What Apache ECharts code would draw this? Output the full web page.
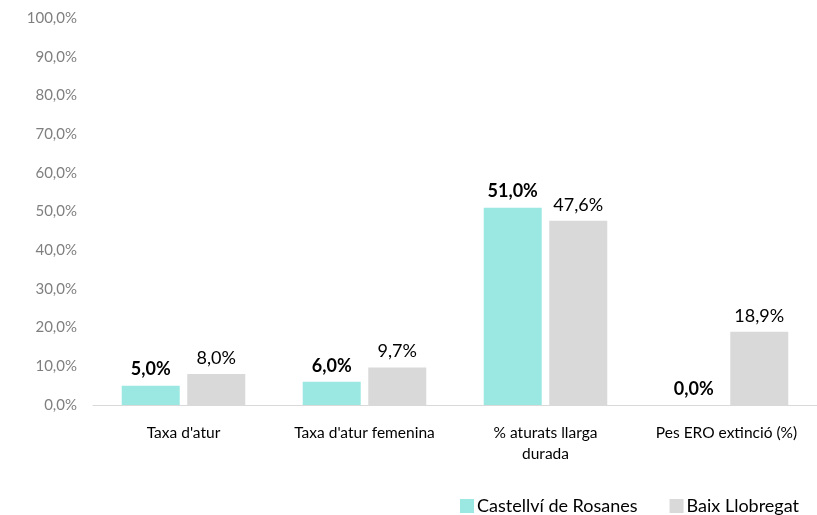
<!DOCTYPE html>
<html>
<head>
<meta charset="utf-8">
<script src="https://cdn.jsdelivr.net/npm/echarts@6/dist/echarts.min.js"></script>
<style>
  html, body { margin: 0; padding: 0; background: #fff; }
  #chart { width: 817px; height: 515px; }
</style>
</head>
<body>
<div id="chart"></div>
<script>
const categories = ["Taxa d'atur", "Taxa d'atur femenina", '% aturats llarga\ndurada', 'Pes ERO extinció (%)']
const castellviData = [5.0, 6.0, 51.0, 0.0]
const baixData = [8.0, 9.7, 47.6, 18.9]
const seriesNames = ['Castellví de Rosanes', 'Baix Llobregat']

const pct = v => v.toFixed(1).replace('.', ',') + '%'

const option = {
  animation: false,
  textStyle: { fontFamily: 'Lato' },
  grid: { left: 93, top: 18, width: 726, height: 387 },
  legend: {
    data: seriesNames,
    left: 455,
    top: 492,
    itemWidth: 14,
    itemHeight: 14,
    itemGap: 32,
    icon: 'rect',
    textStyle: { fontFamily: 'Lato', fontSize: 18, color: '#000', padding: [0, 0, 0, -2] }
  },
  xAxis: {
    type: 'category',
    data: categories,
    axisLine: { lineStyle: { color: '#d9d9d9', width: 1 } },
    axisTick: { show: false },
    axisLabel: { color: '#000', fontSize: 15.5, margin: 17, lineHeight: 21, interval: 0 }
  },
  yAxis: {
    type: 'value',
    min: 0,
    max: 100,
    interval: 10,
    splitLine: { show: false },
    axisLine: { show: false },
    axisTick: { show: false },
    axisLabel: { color: '#7f7f7f', fontSize: 15, margin: 16, formatter: v => pct(v) }
  },
  series: [
    {
      name: seriesNames[0],
      type: 'bar',
      data: castellviData,
      barWidth: 58,
      barGap: '13%',
      itemStyle: { color: '#9be8e3' },
      label: {
        show: true,
        position: 'top',
        distance: 7,
        fontSize: 18,
        fontWeight: 'bold',
        color: '#000',
        formatter: p => pct(p.value)
      }
    },
    {
      name: seriesNames[1],
      type: 'bar',
      data: baixData,
      barWidth: 58,
      itemStyle: { color: '#d9d9d9' },
      label: {
        show: true,
        position: 'top',
        distance: 7,
        fontSize: 18,
        color: '#000',
        formatter: p => pct(p.value)
      }
    }
  ]
}
const myChart = echarts.init(document.getElementById('chart'))
myChart.setOption(option)
</script>
</body>
</html>
